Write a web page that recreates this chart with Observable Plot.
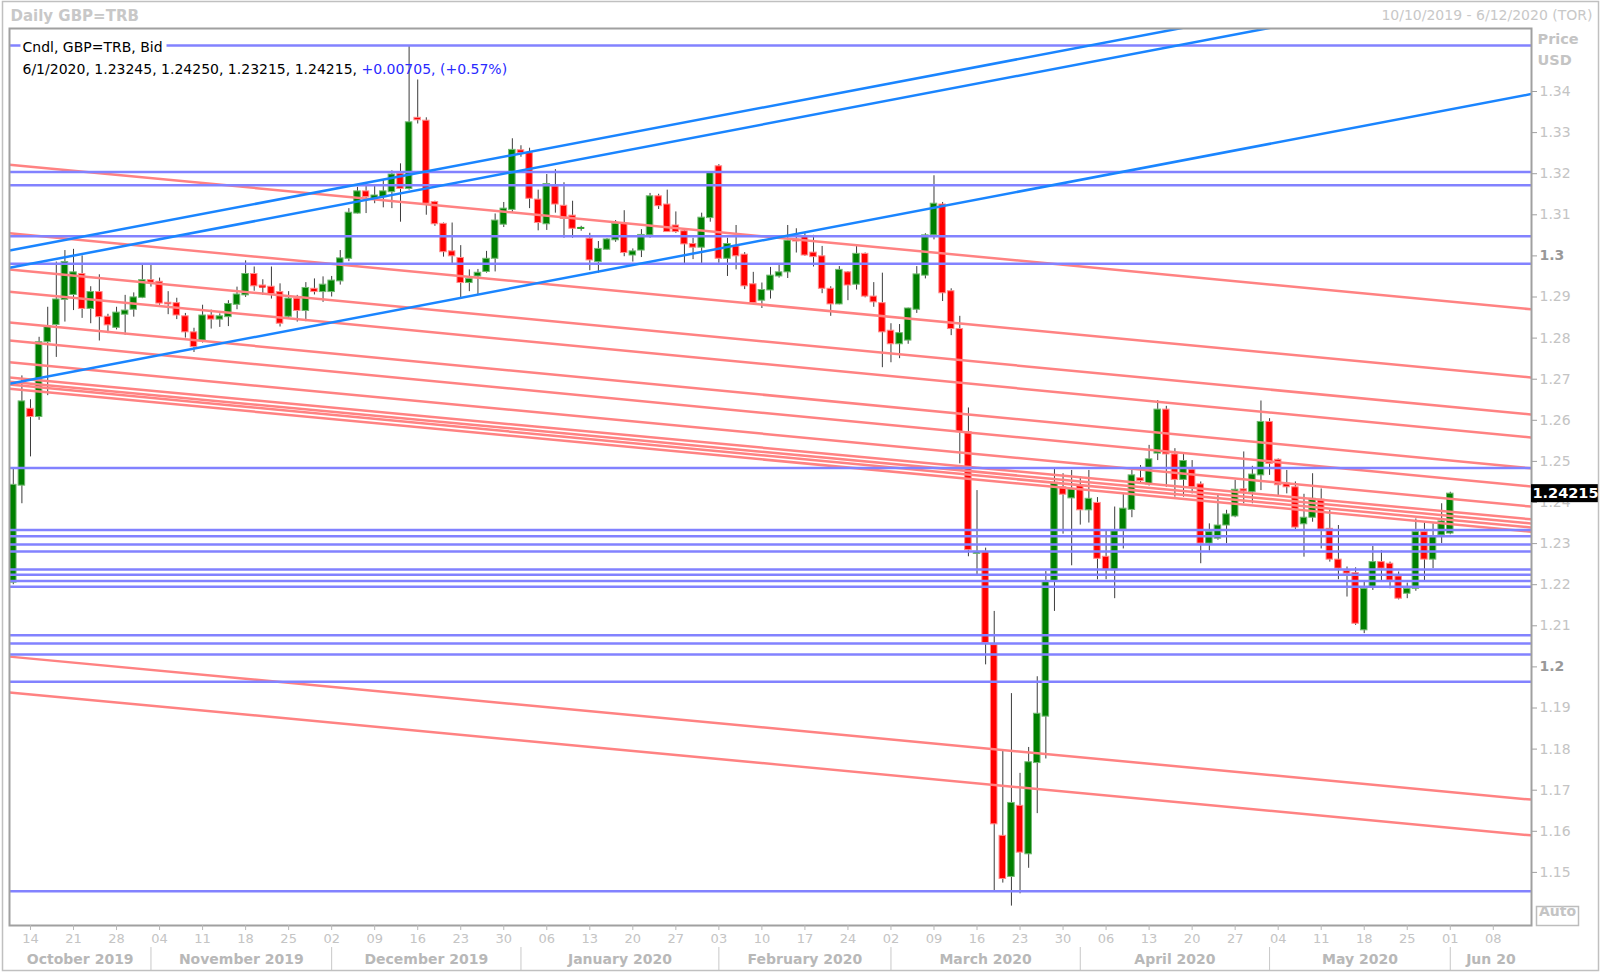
<!DOCTYPE html>
<html><head><meta charset="utf-8">
<script src="https://cdn.jsdelivr.net/npm/d3@7"></script>
<script src="https://cdn.jsdelivr.net/npm/@observablehq/plot@0.6"></script>
<style>html,body{margin:0;padding:0;background:#fff;} #chart{width:1600px;height:972px;}</style>
</head><body><div id="chart"></div>
<script>
// ---------- DATA ----------
const startDate = "2019-10-10";
const endDate = "2020-06-12";

const opens = [1.2205,1.2441,1.2628,1.2608,1.2790,1.2832,1.2893,1.2905,1.2956,1.2871,1.2912,1.2852,1.2825,1.2857,1.2869,1.2898,1.2941,1.2937,1.2886,1.2885,1.2853,1.2814,1.2794,1.2855,1.2845,1.2851,1.2881,1.2904,1.2956,1.2928,1.2925,1.2912,1.2852,1.2896,1.2866,1.2920,1.2912,1.2912,1.2938,1.2993,1.3103,1.3157,1.3137,1.3143,1.3155,1.3200,1.3163,1.3336,1.3329,1.3131,1.3078,1.3011,1.2995,1.2934,1.2950,1.2961,1.2993,1.3076,1.3112,1.3257,1.3250,1.3137,1.3077,1.3169,1.3122,1.3098,1.3066,1.3042,1.2985,1.3015,1.3038,1.3078,1.3001,1.3013,1.3050,1.3145,1.3125,1.3074,1.3060,1.3029,1.3020,1.3092,1.3218,1.2993,1.3023,1.3003,1.2931,1.2891,1.2916,1.2950,1.2960,1.3040,1.3046,1.3008,1.2999,1.2920,1.2882,1.2960,1.2930,1.3005,1.2901,1.2885,1.2818,1.2785,1.2794,1.2869,1.2952,1.3050,1.3125,1.2914,1.2822,1.2571,1.2275,1.2280,1.2053,1.1589,1.1489,1.1662,1.1544,1.1766,1.1879,1.2207,1.2437,1.2410,1.2442,1.2381,1.2399,1.2268,1.2235,1.2334,1.2382,1.2459,1.2444,1.2519,1.2626,1.2517,1.2455,1.2480,1.2444,1.2300,1.2312,1.2344,1.2366,1.2432,1.2425,1.2466,1.2596,1.2504,1.2446,1.2437,1.2347,1.2363,1.2407,1.2336,1.2261,1.2233,1.2228,1.2089,1.2194,1.2255,1.2251,1.2220,1.2178,1.2190,1.2328,1.2261,1.2320,1.23245];
const highs = [1.2484,1.2708,1.2650,1.2802,1.2875,1.2985,1.3013,1.3016,1.3000,1.2925,1.2954,1.2858,1.2875,1.2904,1.2910,1.2979,1.2979,1.2946,1.2913,1.2897,1.2860,1.2824,1.2880,1.2868,1.2859,1.2891,1.2924,1.2988,1.2973,1.2942,1.2973,1.2932,1.2913,1.2904,1.2935,1.2944,1.2949,1.2950,1.3013,1.3115,1.3167,1.3172,1.3172,1.3184,1.3207,1.3224,1.3510,1.3428,1.3336,1.3133,1.3080,1.3080,1.3025,1.2966,1.2967,1.3011,1.3102,1.3130,1.3285,1.3268,1.3262,1.3160,1.3198,1.3210,1.3178,1.3133,1.3072,1.3055,1.3035,1.3042,1.3086,1.3110,1.3017,1.3064,1.3152,1.3150,1.3160,1.3107,1.3065,1.3043,1.3104,1.3204,1.3222,1.3043,1.3074,1.3008,1.2960,1.2934,1.2972,1.2979,1.3074,1.3066,1.3054,1.3050,1.3023,1.2925,1.2974,1.2962,1.3023,1.3007,1.2935,1.2958,1.2835,1.2833,1.2873,1.2974,1.3054,1.3195,1.3130,1.2920,1.2853,1.2630,1.2429,1.2289,1.2135,1.1797,1.1935,1.1741,1.1804,1.1976,1.2232,1.2482,1.2470,1.2478,1.2463,1.2478,1.2412,1.2330,1.2389,1.2421,1.2478,1.2490,1.2539,1.2648,1.2634,1.2531,1.2517,1.2502,1.2450,1.2348,1.2417,1.2381,1.2454,1.2523,1.2488,1.2647,1.2604,1.2506,1.2478,1.2450,1.2420,1.2470,1.2433,1.2381,1.2344,1.2243,1.2241,1.2206,1.2293,1.2283,1.2255,1.2231,1.2204,1.2360,1.2350,1.2348,1.2397,1.24250];
const lows = [1.2200,1.2397,1.2511,1.2600,1.2660,1.2753,1.2839,1.2867,1.2848,1.2835,1.2793,1.2811,1.2820,1.2807,1.2851,1.2896,1.2924,1.2880,1.2857,1.2845,1.2800,1.2765,1.2788,1.2822,1.2826,1.2828,1.2869,1.2899,1.2914,1.2904,1.2895,1.2827,1.2848,1.2839,1.2840,1.2905,1.2887,1.2900,1.2929,1.2986,1.3102,1.3103,1.3127,1.3117,1.3115,1.3082,1.3160,1.3321,1.3099,1.3072,1.2997,1.2981,1.2897,1.2913,1.2905,1.2958,1.2961,1.3069,1.3106,1.3240,1.3115,1.3061,1.3062,1.3104,1.3043,1.3043,1.3060,1.2964,1.2958,1.3014,1.3033,1.2998,1.2985,1.2996,1.3043,1.3113,1.3058,1.3055,1.2977,1.2991,1.2981,1.3082,1.2982,1.2950,1.2966,1.2918,1.2885,1.2872,1.2895,1.2946,1.2945,1.3007,1.2999,1.2973,1.2908,1.2853,1.2881,1.2891,1.2917,1.2898,1.2875,1.2728,1.2740,1.2750,1.2785,1.2860,1.2944,1.3039,1.2889,1.2806,1.2494,1.2268,1.2222,1.2005,1.1454,1.1474,1.1418,1.1448,1.1510,1.1643,1.1776,1.2135,1.2323,1.2246,1.2345,1.2350,1.2212,1.2212,1.2166,1.2287,1.2363,1.2446,1.2440,1.2502,1.2437,1.2413,1.2413,1.2421,1.2251,1.2282,1.2308,1.2300,1.2363,1.2397,1.2397,1.2429,1.2466,1.2413,1.2421,1.2333,1.2267,1.2352,1.2287,1.2255,1.2212,1.2170,1.2101,1.2081,1.2186,1.2206,1.2190,1.2163,1.2166,1.2184,1.2210,1.2239,1.2300,1.23215];
const closes = [1.2443,1.2646,1.2608,1.2790,1.2828,1.2894,1.2985,1.2960,1.2871,1.2912,1.2851,1.2831,1.2862,1.2867,1.2899,1.2941,1.2934,1.2884,1.2882,1.2855,1.2814,1.2778,1.2855,1.2845,1.2853,1.2883,1.2906,1.2956,1.2926,1.2925,1.2907,1.2835,1.2896,1.2866,1.2922,1.2912,1.2930,1.2940,1.2994,1.3105,1.3157,1.3143,1.3147,1.3157,1.3198,1.3163,1.3325,1.3330,1.3127,1.3077,1.3009,1.2999,1.2934,1.2944,1.2959,1.2993,1.3086,1.3115,1.3258,1.3250,1.3139,1.3080,1.3175,1.3125,1.3090,1.3066,1.3068,1.2989,1.3017,1.3040,1.3078,1.3007,1.3011,1.3051,1.3145,1.3121,1.3058,1.3058,1.3028,1.3020,1.3093,1.3204,1.2993,1.3029,1.2999,1.2926,1.2885,1.2917,1.2952,1.2960,1.3037,1.3035,1.3001,1.2997,1.2920,1.2882,1.2966,1.2928,1.3005,1.2901,1.2887,1.2814,1.2785,1.2812,1.2872,1.2955,1.3050,1.3127,1.2909,1.2822,1.2571,1.2284,1.2280,1.2058,1.1617,1.1484,1.1669,1.1548,1.1768,1.1886,1.2207,1.2448,1.2419,1.2432,1.2381,1.2409,1.2263,1.2235,1.2330,1.2385,1.2466,1.2452,1.2505,1.2626,1.2517,1.2455,1.2501,1.2437,1.2300,1.2328,1.2344,1.2371,1.2431,1.2427,1.2468,1.2596,1.2494,1.2442,1.2437,1.2339,1.2363,1.2409,1.2334,1.2261,1.2239,1.2227,1.2105,1.2190,1.2255,1.2239,1.2210,1.2166,1.2190,1.2328,1.2261,1.2316,1.2354,1.24215];

const dayTickLabels = ["14","21","28","04","11","18","25","02","09","16","23","30","06","13","20","27","03","10","17","24","02","09","16","23","30","06","13","20","27","04","11","18","25","01","08"];
const monthLabels = ["October 2019","November 2019","December 2019","January 2020","February 2020","March 2020","April 2020","May 2020","Jun 20"];
const priceTicks = [1.15,1.16,1.17,1.18,1.19,1.2,1.21,1.22,1.23,1.24,1.25,1.26,1.27,1.28,1.29,1.3,1.31,1.32,1.33,1.34];
const boldPriceTicks = [1.2, 1.3];

// horizontal support / resistance levels (blue)
const levelPrices = [1.3512,1.3204,1.3172,1.3048,1.2981,1.2484,1.2333,1.2318,1.2298,1.2281,1.2237,1.2224,1.2209,1.2195,1.2077,1.2057,1.2030,1.1964,1.1454];
// descending trend lines (red): price at left edge / right edge of the chart
const redLineLeft  = [1.3222,1.3055,1.2967,1.2913,1.2838,1.2794,1.2741,1.2704,1.2694,1.2687,1.2677,1.2025,1.1938];
const redLineRight = [1.2870,1.2704,1.2614,1.2558,1.2483,1.2439,1.2390,1.2359,1.2349,1.2339,1.2329,1.1677,1.1590];
// rising trend lines (blue): price at left edge / right edge
const blueLineLeft  = [1.3013,1.2971,1.2689];
const blueLineRight = [1.3716,1.3676,1.3394];

const headerText = "Daily GBP=TRB";
const rangeText = "10/10/2019 - 6/12/2020 (TOR)";
const legendTitle = "Cndl, GBP=TRB, Bid";
const legendValues = "6/1/2020, 1.23245, 1.24250, 1.23215, 1.24215, ";
const legendChange = "+0.00705, (+0.57%)";

// ---------- BUILD ----------
const sessions = [];
for (let t = Date.parse(startDate); t <= Date.parse(endDate); t += 864e5) {
  const d = new Date(t); const w = d.getUTCDay();
  if (w !== 0 && w !== 6) sessions.push(d);
}
const candles = opens.map((o, i) => ({i, date: sessions[i], open: o, high: highs[i], low: lows[i], close: closes[i], up: closes[i] >= o}));
const xDomain = [-0.44, sessions.length - 0.56];
const yDomain = [1.13708, 1.35533];

const mondays = [];
sessions.forEach((d, i) => { if (d.getUTCDay() === 1) mondays.push(i); });
const mondayLabel = new Map(mondays.map((m, k) => [m, dayTickLabels[k]]));

const monthStarts = [];
sessions.forEach((d, i) => { if (i > 0 && d.getUTCMonth() !== sessions[i - 1].getUTCMonth()) monthStarts.push(i); });
const bounds = [xDomain[0], ...monthStarts, xDomain[1]];
const monthMids = monthLabels.map((label, k) => ({label, x: (bounds[k] + bounds[k + 1]) / 2}));

const redLines = redLineLeft.map((l, k) => ({x1: xDomain[0], y1: l, x2: xDomain[1], y2: redLineRight[k]}));
const blueLines = blueLineLeft.map((l, k) => ({x1: xDomain[0], y1: l, x2: xDomain[1], y2: blueLineRight[k]}));
const last = candles[candles.length - 1];

const FONT = "'DejaVu Sans', Verdana, sans-serif";
const ctx = document.createElement("canvas").getContext("2d");
ctx.font = `14px ${FONT}`;
const valuesWidth = ctx.measureText(legendValues).width;
const fmt = d => String(+d.toFixed(2));
const halfBody = 0.38;

const chart = Plot.plot({
  width: 1600, height: 972,
  marginLeft: 9, marginRight: 69, marginTop: 28, marginBottom: 47,
  x: {type: "linear", domain: xDomain},
  y: {type: "linear", domain: yDomain},
  style: {fontFamily: FONT, background: "white", overflow: "visible"},
  marks: [
    // candles
    Plot.ruleX(candles, {x: "i", y1: "low", y2: "high", stroke: "#3c3c3c", strokeWidth: 1}),
    Plot.rect(candles, {x1: d => d.i - halfBody, x2: d => d.i + halfBody, y1: "open", y2: "close",
      fill: d => d.up ? "#008000" : "#ff0000", stroke: d => d.up ? "#72b872" : "#ff8c8c", strokeWidth: 1}),
    Plot.ruleY(candles.filter(d => Math.abs(d.open - d.close) < 0.0003),
      {y: "close", x1: d => d.i - halfBody, x2: d => d.i + halfBody, stroke: d => d.up ? "#30a030" : "#ff2020", strokeWidth: 2}),
    // trend lines
    Plot.link(redLines, {x1: "x1", y1: "y1", x2: "x2", y2: "y2", stroke: "#ff8282", strokeWidth: 2.5, clip: true}),
    Plot.ruleY(levelPrices, {stroke: "#8282ff", strokeWidth: 2.5}),
    Plot.link(blueLines, {x1: "x1", y1: "y1", x2: "x2", y2: "y2", stroke: "#1a85ff", strokeWidth: 2.5, clip: true}),
    // frame
    Plot.frame({stroke: "#a0a0a0", strokeWidth: 2}),
    // axes
    Plot.axisX(mondays, {anchor: "bottom", tickSize: 5, tickPadding: 3, tickFormat: d => mondayLabel.get(d),
      stroke: "#b8b8b8", fill: "#c4c4c4", fontSize: 13, label: null}),
    Plot.axisY(priceTicks.filter(t => !boldPriceTicks.includes(t)), {anchor: "right", tickSize: 5, tickPadding: 3,
      tickFormat: fmt, stroke: "#a0a0a0", fill: "#c4c4c4", fontSize: 14, label: null}),
    Plot.axisY(boldPriceTicks, {anchor: "right", tickSize: 5, tickPadding: 3,
      tickFormat: fmt, stroke: "#a0a0a0", fill: "#999999", fontWeight: "bold", fontSize: 14, label: null}),
    // month band
    Plot.ruleX(monthStarts, {x: d => d, stroke: "#c8c8c8", strokeWidth: 1, insetTop: 919, insetBottom: -45}),
    Plot.text(monthMids, {x: "x", text: "label", frameAnchor: "bottom", dy: 38, fontWeight: "bold", fill: "#b8b8b8", fontSize: 14}),
    // header
    Plot.text([headerText], {frameAnchor: "top-left", dx: 1, dy: -18, text: d => d, textAnchor: "start", fontWeight: "bold", fill: "#c8c8c8", fontSize: 15}),
    Plot.text([rangeText], {frameAnchor: "top-right", dx: 61, dy: -18, text: d => d, textAnchor: "end", fill: "#c8c8c8", fontSize: 14}),
    Plot.text(["Price"], {frameAnchor: "top-right", dx: 6, dy: 5, text: d => d, textAnchor: "start", fontWeight: "bold", fill: "#c4c4c4", fontSize: 14.5}),
    Plot.text(["USD"], {frameAnchor: "top-right", dx: 6, dy: 26, text: d => d, textAnchor: "start", fontWeight: "bold", fill: "#c4c4c4", fontSize: 14.5}),
    // legend
    Plot.frame({fill: "white", stroke: "none", insetLeft: 11, insetTop: 10, insetRight: 1365, insetBottom: 871}),
    Plot.text([legendTitle], {frameAnchor: "top-left", dx: 13, dy: 14, text: d => d, textAnchor: "start", fill: "#000", fontSize: 14}),
    Plot.text([legendValues], {frameAnchor: "top-left", dx: 13, dy: 36, text: d => d, textAnchor: "start", fill: "#000", fontSize: 14}),
    Plot.text([legendChange], {frameAnchor: "top-left", dx: 13 + valuesWidth, dy: 36, text: d => d, textAnchor: "start", fill: "#2a2aff", fontSize: 14}),
    // last price label
    Plot.rect([last], {x1: () => xDomain[1], x2: () => xDomain[1], y1: "close", y2: "close", insetRight: -67, insetTop: -9, insetBottom: -9, fill: "black"}),
    Plot.text([last], {x: () => xDomain[1], y: "close", dx: 34, text: d => d.close.toFixed(5), fill: "white", fontWeight: "bold", fontSize: 14.5}),
    // Auto button
    Plot.frame({fill: "white", stroke: "#bdbdbd", strokeWidth: 1.5, insetLeft: 1527, insetRight: -47, insetTop: 878, insetBottom: 0}),
    Plot.text(["Auto"], {frameAnchor: "bottom-right", dx: 26, dy: -10, text: d => d, textAnchor: "middle", fontWeight: "bold", fill: "#c4c4c4", fontSize: 14}),
    // outer border
    Plot.frame({stroke: "#c0c0c0", strokeWidth: 1.5, insetLeft: -7, insetTop: -27, insetRight: -67, insetBottom: -45})
  ]
});
document.getElementById("chart").appendChild(chart);
</script>
</body></html>
